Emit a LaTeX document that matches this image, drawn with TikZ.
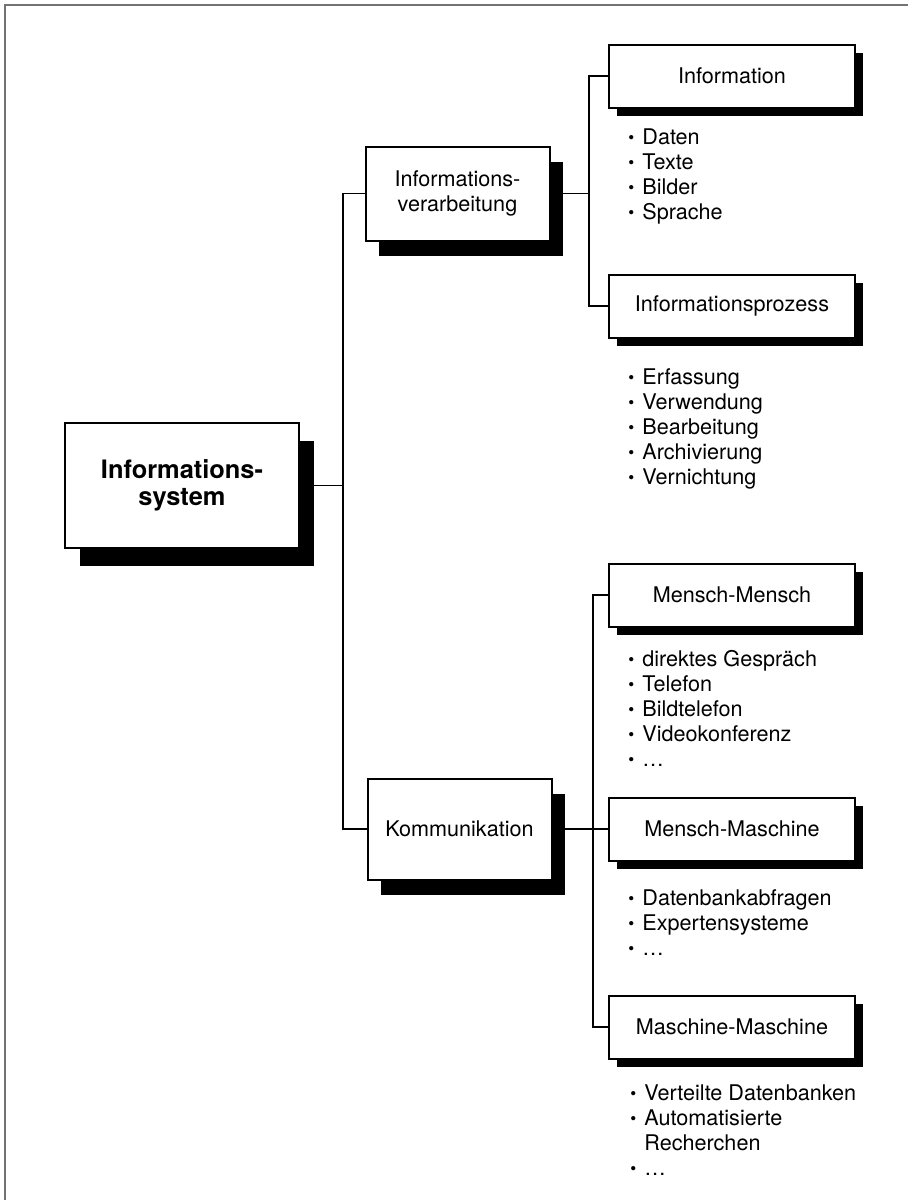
\documentclass[tikz,border=0pt]{standalone}
\usepackage{fontspec}
\setmainfont{TeX Gyre Heros}
\usetikzlibrary{shadows}

\newcommand{\bul}{\makebox[7pt][l]{\raisebox{0.3pt}{\fontsize{8.5}{8.5}\selectfont\textbullet}}}
\newcommand{\cont}{\hspace*{7pt}}

\tikzset{
  frameline/.style={draw=black!55, line width=1pt},
  conn/.style={draw, line width=0.75pt},
  box/.style={draw, fill=white, line width=1pt, inner sep=0pt, align=center,
    font=\fontsize{10.8}{12.5}\selectfont},
  mainbox/.style={box, minimum width=117pt, minimum height=62.5pt,
    font=\fontsize{12.7}{13.5}\selectfont\bfseries,
    drop shadow={shadow xshift=7.5pt, shadow yshift=-9pt, fill=black, opacity=1}},
  midbox/.style={box, minimum width=92pt,
    drop shadow={shadow xshift=6.5pt, shadow yshift=-7.5pt, fill=black, opacity=1}},
  leafbox/.style={box, minimum width=123pt, minimum height=31.5pt,
    drop shadow={shadow xshift=4pt, shadow yshift=-4pt, fill=black, opacity=1}},
  itemlist/.style={anchor=north west, inner sep=0pt, align=left,
    font=\fontsize{10.8}{12.5}\selectfont}
}

\begin{document}
\begin{tikzpicture}[x=0.5pt, y=-0.5pt]
  \useasboundingbox (0,0) rectangle (908,1200);
  \draw[frameline] (908,5) -- (5,5) -- (5,1200);

  % boxes
  \node[mainbox] (system) at (182,485.5) {Informations-\\system};
  \node[midbox, minimum height=47pt] (verarb) at (457.5,193.5) {Informations-\\verarbeitung};
  \node[midbox, minimum height=50.5pt] (komm) at (459.5,829) {Kommunikation};

  \node[leafbox] (info) at (732,76) {Information};
  \node[leafbox] (prozess) at (732,306) {Informationsprozess};
  \node[leafbox] (mensch) at (732,595) {Mensch-Mensch};
  \node[leafbox] (menschmasch) at (732,829) {Mensch-Maschine};
  \node[leafbox] (masch) at (732,1027) {Maschine-Maschine};

  % lists
  \node[itemlist] (infolist) at (628,128) {\bul Daten\\\bul Texte\\\bul Bilder\\\bul Sprache};
  \node[itemlist] (prozlist) at (628,368) {\bul Erfassung\\\bul Verwendung\\\bul Bearbeitung\\\bul Archivierung\\\bul Vernichtung};
  \node[itemlist] (menschlist) at (628,650) {\bul direktes Gespräch\\\bul Telefon\\\bul Bildtelefon\\\bul Videokonferenz\\\bul \ldots};
  \node[itemlist] (menschmaschlist) at (628,889) {\bul Datenbankabfragen\\\bul Expertensysteme\\\bul \ldots};
  \node[itemlist] (maschlist) at (630,1084) {\bul Verteilte Datenbanken\\\bul Automatisierte\\\cont Recherchen\\\bul \ldots};

  % connectors
  \coordinate (j1) at (343,485.5);
  \coordinate (j2) at (589,193.5);
  \coordinate (j3) at (593,829);

  \draw[conn] (system.east) -- (j1);
  \draw[conn] (verarb.west) -| (j1) |- (komm.west);
  \draw[conn] (verarb.east) -- (j2);
  \draw[conn] (info.west) -| (j2) |- (prozess.west);
  \draw[conn] (komm.east) -- (menschmasch.west);
  \draw[conn] (mensch.west) -| (j3) |- (masch.west);

\end{tikzpicture}
\end{document}
